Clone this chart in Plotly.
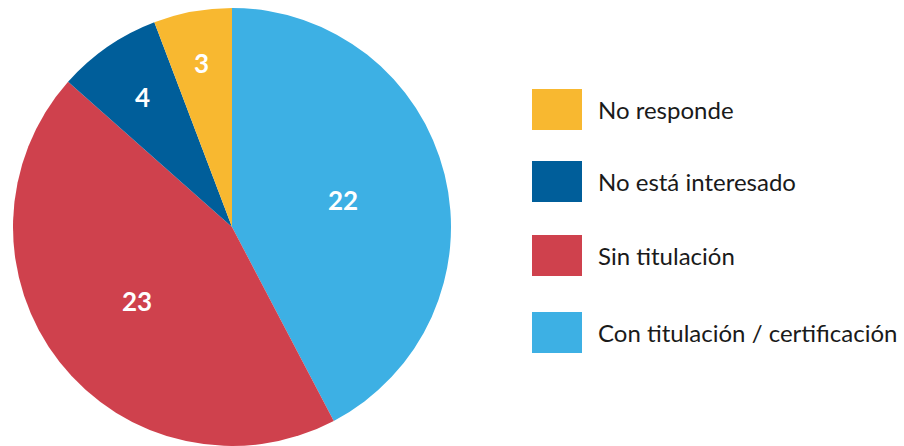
import math
import plotly.graph_objects as go

# Survey responses, in clockwise order from 12 o'clock
categories = ["Con titulación / certificación", "Sin titulación", "No está interesado", "No responde"]
values = [22, 23, 4, 3]
colors = ["#3DB0E4", "#CF414D", "#005E9A", "#F8B830"]

# Legend is listed bottom-up relative to the slice order
legend_order = ["No responde", "No está interesado", "Sin titulación", "Con titulación / certificación"]

# Distance of each value label from the centre, as a fraction of the radius
label_radius = [0.52, 0.55, 0.72, 0.76]

W, H = 904, 446
cx, cy, R = 232, 227, 219  # pie centre and radius in pixels

fig = go.Figure()
fig.add_trace(go.Pie(
    labels=categories,
    values=values,
    sort=False,
    direction="clockwise",
    rotation=0,
    marker=dict(colors=colors, line=dict(width=0)),
    textinfo="none",
    domain=dict(x=[(cx - R) / W, (cx + R) / W], y=[0, (2 * R) / H]),
    showlegend=False,
    hoverinfo="label+value",
))

annotations = []

# Value labels placed at the angular middle of each slice
total = sum(values)
acc = 0
for v, f in zip(values, label_radius):
    mid = (acc + v / 2) / total * 2 * math.pi
    acc += v
    px = cx + f * R * math.sin(mid)
    py = cy - f * R * math.cos(mid)
    annotations.append(dict(
        xref="paper", yref="paper",
        x=px / W, y=1 - py / H,
        xanchor="center", yanchor="middle",
        text=str(v), showarrow=False,
        font=dict(family="Lato", size=26, color="white", weight="bold"),
    ))

# Custom legend with large colour swatches
color_of = dict(zip(categories, colors))
sw_x0, sw_x1 = 532, 582
row_tops = [89, 161, 235, 312]
sw_h = 41
shapes = []
for name, top in zip(legend_order, row_tops):
    shapes.append(dict(
        type="rect", xref="paper", yref="paper",
        x0=sw_x0 / W, x1=sw_x1 / W,
        y0=1 - (top + sw_h) / H, y1=1 - top / H,
        fillcolor=color_of[name], line=dict(width=0),
    ))
    annotations.append(dict(
        xref="paper", yref="paper",
        x=596 / W, y=1 - (top + sw_h / 2) / H,
        xanchor="left", yanchor="middle",
        text=name, showarrow=False,
        font=dict(family="Lato", size=24, color="#1a1a1a"),
    ))

fig.update_layout(
    width=W, height=H,
    margin=dict(l=0, r=0, t=0, b=0),
    paper_bgcolor="white",
    plot_bgcolor="white",
    shapes=shapes,
    annotations=annotations,
)

fig.write_html("out.html")
